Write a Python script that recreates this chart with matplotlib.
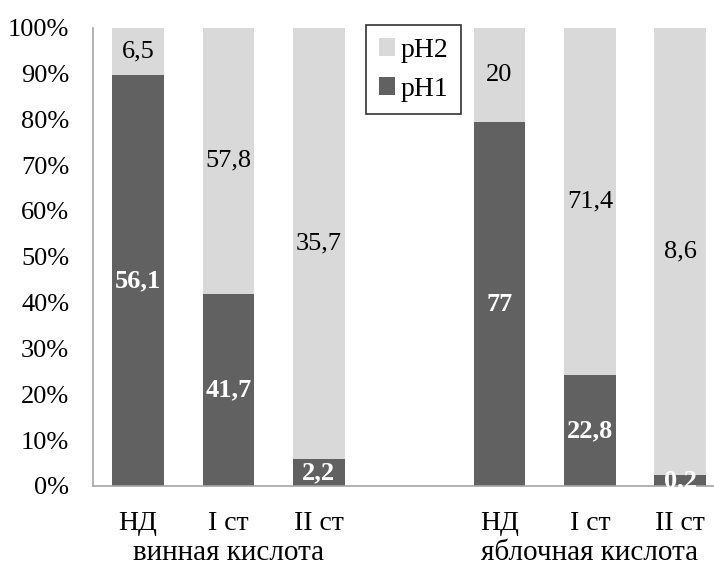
import numpy as np
import matplotlib
matplotlib.use("Agg")
import matplotlib.pyplot as plt
from matplotlib.transforms import blended_transform_factory

plt.rcParams["font.family"] = ["Liberation Serif", "DejaVu Serif"]

# данные
categories = ["НД", "I ст", "II ст", "", "НД", "I ст", "II ст"]
groups = ["винная кислота", "яблочная кислота"]
group_pos = [1, 5]
ph1 = [56.1, 41.7, 2.2, 0, 77, 22.8, 0.2]
ph2 = [6.5, 57.8, 35.7, 0, 20, 71.4, 8.6]
ph1_lbl = ["56,1", "41,7", "2,2", "", "77", "22,8", "0,2"]
ph2_lbl = ["6,5", "57,8", "35,7", "", "20", "71,4", "8,6"]

DARK = "#616161"
LIGHT = "#d9d9d9"

ph1 = np.array(ph1, dtype=float)
ph2 = np.array(ph2, dtype=float)
tot = ph1 + ph2
tot[tot == 0] = 1
f1 = ph1 / tot
f2 = ph2 / tot
x = np.arange(len(categories))

fig = plt.figure(figsize=(7.14, 5.65), dpi=100)
ax = fig.add_axes([0.130, 0.140, 0.886, 0.811])

w = 0.57
ax.bar(x, f1, w, color=DARK, label="pH1")
ax.bar(x, f2, w, bottom=f1, color=LIGHT, label="pH2")

for i in range(len(x)):
    if not ph1_lbl[i]:
        continue
    ax.text(x[i], f1[i] / 2, ph1_lbl[i], ha="center", va="center",
            color="white", fontsize=19, fontweight="bold")
    ax.text(x[i], f1[i] + f2[i] / 2, ph2_lbl[i], ha="center", va="center",
            color="black", fontsize=19)

ax.set_xlim(-0.5, 6.5)
ax.set_ylim(0, 1)
ax.set_yticks(np.arange(0, 1.01, 0.1))
ax.set_yticklabels([f"{v}%" for v in range(0, 101, 10)], fontsize=19)
ax.set_xticks(x)
ax.set_xticklabels(categories, fontsize=20)
ax.tick_params(axis="both", length=0)
ax.tick_params(axis="y", pad=17)
ax.tick_params(axis="x", pad=18)

for s in ["top", "right"]:
    ax.spines[s].set_visible(False)
for s in ["left", "bottom"]:
    ax.spines[s].set_color("#a6a6a6")
    ax.spines[s].set_linewidth(1.2)

tr = blended_transform_factory(ax.transData, fig.transFigure)
for g, p in zip(groups, group_pos):
    ax.text(p, 1 - 553 / 565, g, transform=tr, ha="center", va="center", fontsize=21)

h, l = ax.get_legend_handles_labels()
leg = ax.legend(h[::-1], l[::-1], loc="upper left", bbox_to_anchor=(0.432, 1.005),
                borderaxespad=0, fontsize=20, frameon=True, fancybox=False,
                handlelength=0.6, handleheight=0.6, handletextpad=0.2,
                borderpad=0.45, labelspacing=0.5)
leg.get_frame().set_edgecolor("black")
leg.get_frame().set_linewidth(1.2)

fig.savefig("out.png", dpi=100)
